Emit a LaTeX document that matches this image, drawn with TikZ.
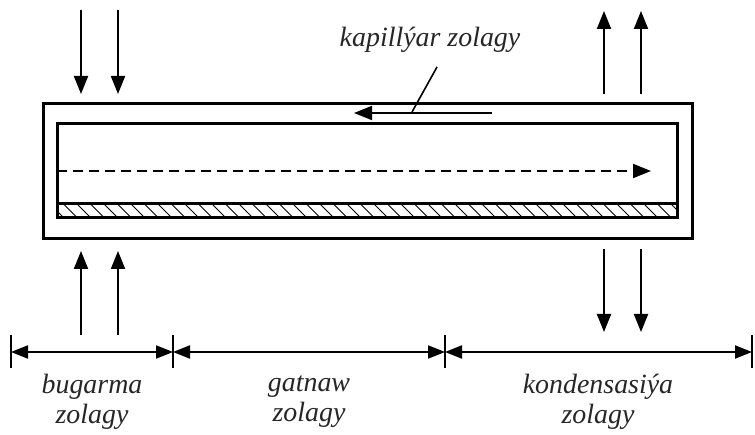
\documentclass[tikz,border=0pt]{standalone}
\usepackage{fontspec}
\setmainfont{Liberation Serif}
\usetikzlibrary{arrows.meta}
\begin{document}
\begin{tikzpicture}[x=1bp,y=-1bp,
  lbl/.style={font=\itshape\fontsize{28}{30}\selectfont, text=black!85, align=center, inner sep=0pt},
  boxline/.style={line width=3bp},
  flow/.style={line width=2bp, -{Triangle[length=18bp,width=14bp]}},
  dim/.style={line width=2bp, {Triangle[length=17bp,width=13bp]}-{Triangle[length=17bp,width=13bp]}},
  tick/.style={line width=2bp},
  hatchline/.style={line width=0.8bp}]
\useasboundingbox (0,0) rectangle (755,435);
% outer and inner boxes
\draw[boxline] (43,104) rectangle (692,239);
\draw[boxline] (57,124) rectangle (677,218);
% hatched strip
\begin{scope}
\clip (57,204) rectangle (677,218);
\foreach \i in {0,...,50} {\draw[hatchline] ({50+\i*13.5},204) -- ({64+\i*13.5},218);}
\end{scope}
\draw[boxline] (57,204) -- (677,204);
% dashed flow
\coordinate (dA) at (57,171);
\coordinate (dB) at (651,171);
\draw[line width=2bp, dash pattern=on 10bp off 6bp, -{Triangle[length=18bp,width=14bp]}] (dA) -- (dB);
% capillary arrow
\coordinate (cA) at (492,113);
\coordinate (cB) at (354,113);
\draw[flow] (cA) -- (cB);
\node[lbl] (kap) at (430,40) {kapillýar zolagy};
\coordinate (lA) at (437,67);
\coordinate (lB) at (412,112);
\draw[line width=1.6bp] (lA) -- (lB);
% vertical arrows
\foreach \x [count=\k] in {81,118} {
  \coordinate (ta\k) at (\x,10); \coordinate (tb\k) at (\x,94);
  \draw[flow] (ta\k) -- (tb\k);
  \coordinate (ba\k) at (\x,335); \coordinate (bb\k) at (\x,251);
  \draw[flow] (ba\k) -- (bb\k);
}
\foreach \x [count=\k] in {604,641} {
  \coordinate (ra\k) at (\x,94); \coordinate (rb\k) at (\x,11);
  \draw[flow] (ra\k) -- (rb\k);
  \coordinate (sa\k) at (\x,249); \coordinate (sb\k) at (\x,332);
  \draw[flow] (sa\k) -- (sb\k);
}
% dimension line
\foreach \n/\x in {p0/11,p1/173,p2/445,p3/752} {
  \coordinate (\n) at (\x,352);
  \draw[tick] (\x,335) -- (\x,368);
}
\draw[dim] (p0) -- (p1);
\draw[dim] (p1) -- (p2);
\draw[dim] (p2) -- (p3);
\node[lbl] (l1) at (92,402) {bugarma\\zolagy};
\node[lbl] (l2) at (309,402) {gatnaw\\zolagy};
\node[lbl] (l3) at (598,402) {kondensasiýa\\zolagy};
\end{tikzpicture}
\end{document}
